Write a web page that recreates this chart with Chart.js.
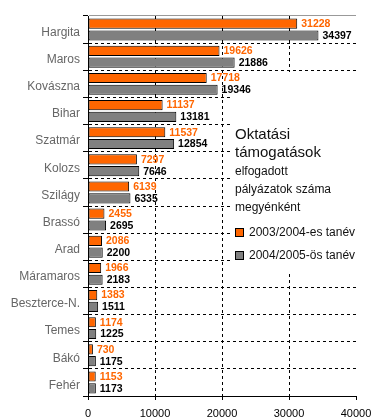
<!DOCTYPE html>
<html>
<head>
<meta charset="utf-8">
<script src="https://cdn.jsdelivr.net/npm/chart.js@4"></script>
<style>
body { margin: 0; background: #fff; }
#wrap { position: relative; width: 385px; height: 420px; font-family: "Liberation Sans", Arial, sans-serif; }
#note { position: absolute; left: 230px; top: 72px; width: 155px; height: 200px; color: #111; }
#note div { position: absolute; left: 5px; white-space: nowrap; }
#note .big { font-size: 15px; line-height: 15px; }
#note .small { font-size: 12px; line-height: 12px; }
#note .box { width: 7px; height: 7px; border: 1px solid #000; }
#note .item { left: 19px; }
</style>
</head>
<body>
<div id="wrap">
    <canvas id="chart" width="385" height="420"></canvas>
    <div id="note">
        <div class="big" style="top:54px">Oktatási</div>
        <div class="big" style="top:72px">támogatások</div>
        <div class="small" style="top:93px">elfogadott</div>
        <div class="small" style="top:111px">pályázatok száma</div>
        <div class="small" style="top:129px">megyénként</div>
        <div class="box" id="box0" style="top:156px"></div>
        <div class="small item" id="name0" style="top:154px"></div>
        <div class="box" id="box1" style="top:179px"></div>
        <div class="small item" id="name1" style="top:177px"></div>
    </div>
</div>
<script>
const categories = ['Hargita', 'Maros', 'Kovászna', 'Bihar', 'Szatmár', 'Kolozs', 'Szilágy',
    'Brassó', 'Arad', 'Máramaros', 'Beszterce-N.', 'Temes', 'Bákó', 'Fehér'];
const seriesNames = ['2003/2004-es tanév', '2004/2005-ös tanév'];
const values0304 = [31228, 19626, 17718, 11137, 11537, 7297, 6139, 2455, 2086, 1966, 1383, 1174, 730, 1153];
const values0405 = [34397, 21886, 19346, 13181, 12854, 7646, 6335, 2695, 2200, 2183, 1511, 1225, 1175, 1173];
const axisMax = 40000;
const axisStep = 10000;

const colors = ['#ff6600', '#808080'];
const labelColors = ['#ff6600', '#000000'];
const font = '"Liberation Sans", Arial, sans-serif';

seriesNames.forEach((name, i) => {
    document.getElementById('name' + i).textContent = name;
    document.getElementById('box' + i).style.background = colors[i];
});

// white patch behind the legend text, covers the grid but not the bars/labels
const notePatch = {
    id: 'notePatch',
    beforeDatasetsDraw(chart) {
        let ctx = chart.ctx;
        ctx.save();
        ctx.fillStyle = '#fff';
        ctx.fillRect(230, 72, chart.chartArea.right - 229, 200);
        ctx.restore();
    }
};

// numbers at the end of every bar
const valueLabels = {
    id: 'valueLabels',
    afterDatasetsDraw(chart) {
        let ctx = chart.ctx;
        ctx.save();
        ctx.font = 'bold 10.5px ' + font;
        ctx.textAlign = 'left';
        ctx.textBaseline = 'middle';
        chart.data.datasets.forEach((ds, i) => {
            ctx.fillStyle = labelColors[i];
            chart.getDatasetMeta(i).data.forEach((bar, j) => {
                ctx.fillText(String(ds.data[j]), bar.x + 4, bar.y + 0.5);
            });
        });
        ctx.restore();
    }
};

function isTick(c) {
    return c.type === 'tick';
}

new Chart(document.getElementById('chart').getContext('2d'), {
    type: 'bar',
    data: {
        labels: categories,
        datasets: [values0304, values0405].map((vals, i) => ({
            label: seriesNames[i],
            data: vals,
            backgroundColor: colors[i],
            borderColor: '#000',
            borderWidth: 1,
            borderSkipped: false,
            barPercentage: 0.86,
            categoryPercentage: 0.87
        }))
    },
    options: {
        indexAxis: 'y',
        responsive: false,
        animation: false,
        layout: { padding: { left: 0, right: 29, top: 16, bottom: 0 } },
        plugins: { legend: { display: false }, tooltip: { enabled: false } },
        scales: {
            x: {
                min: 0,
                max: axisMax,
                ticks: {
                    stepSize: axisStep,
                    color: '#000',
                    font: { family: font, size: 11 },
                    padding: 7,
                    maxRotation: 0,
                    callback: v => String(v)
                },
                grid: {
                    color: c => (isTick(c) && c.index > 0 && c.index < 4) ? '#000' : 'rgba(0,0,0,0)',
                    tickColor: '#000',
                    tickLength: 4
                },
                border: { color: '#000', dash: c => isTick(c) ? [3, 3] : [] },
                afterFit(s) { s.height = 24; }
            },
            y: {
                ticks: {
                    color: '#666',
                    font: { family: font, size: 12 },
                    padding: 3,
                    labelOffset: 3
                },
                grid: {
                    color: c => (isTick(c) && c.index === 0) ? '#999' : '#000',
                    tickColor: '#000',
                    tickLength: 5
                },
                border: { color: '#000', dash: c => (isTick(c) && c.index > 0) ? [3, 3] : [] },
                afterFit(s) { s.width = 88; }
            }
        }
    },
    plugins: [notePatch, valueLabels]
});
</script>
</body>
</html>
